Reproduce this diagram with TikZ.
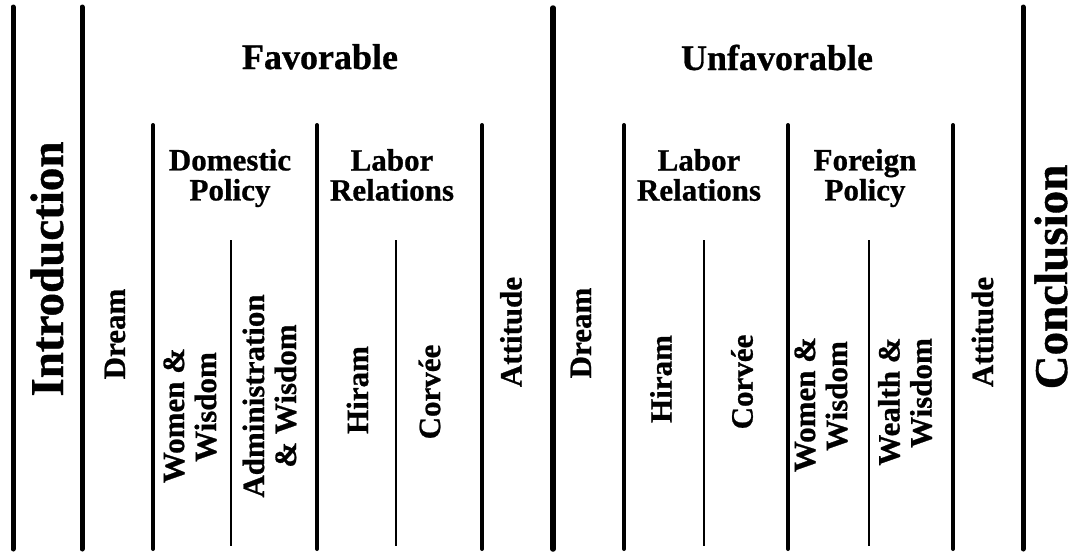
\documentclass[tikz,border=0pt]{standalone}
\usepackage{fontspec}
\setmainfont{Liberation Serif}[BoldFeatures={FakeBold=0.8}]
\begin{document}
\begin{tikzpicture}[x=1pt,y=-1pt,
  major/.style={line width=5pt, line cap=round},
  middle/.style={line width=5.5pt, line cap=round},
  secondary/.style={line width=4pt, line cap=round},
  minor/.style={line width=1.8pt},
  bigtext/.style={inner sep=0pt, rotate=90, font=\fontsize{47}{50}\selectfont\bfseries},
  headtext/.style={inner sep=0pt, anchor=base, font=\fontsize{36}{40}\selectfont\bfseries},
  subtext/.style={inner sep=0pt, align=center, font=\fontsize{31}{30}\selectfont\bfseries},
  labtext/.style={inner sep=0pt, rotate=90, align=center, font=\fontsize{31}{32}\selectfont\bfseries}]
\useasboundingbox (0,0) rectangle (1086,552);

% thick dividers
\draw[major] (13,7) -- (13,549);
\draw[major] (82,7) -- (82,549);
\draw[middle] (553,8) -- (553,549);
\draw[major] (1023,7) -- (1023,549);

% secondary dividers
\foreach \x in {153,317,482,624,788,953}
  \draw[secondary] (\x,125) -- (\x,549);

% minor dividers
\foreach \x in {231,396,704,869}
  \draw[minor] (\x,240) -- (\x,546);

% big labels
\node[bigtext] (intro) at (47,269) {Introduction};
\node[bigtext] (concl) at (1051,277) {Conclusion};

% section heads
\node[headtext] (fav) at (320,69) {Favorable};
\node[headtext] (unfav) at (777,70) {Unfavorable};

% sub heads
\node[subtext] (dom) at (230,178) {Domestic\\Policy};
\node[subtext] (labf) at (392,175) {Labor\\Relations};
\node[subtext] (labu) at (699,175) {Labor\\Relations};
\node[subtext] (for) at (865,178) {Foreign\\Policy};

% rotated labels
\node[labtext] (dreamf) at (115,334) {Dream};
\node[labtext] (womf) at (190,407) {Women \&\hspace*{0.55em}\\Wisdom};
\node[labtext] (adm) at (269.5,396) {Administration\\\& Wisdom};
\node[labtext] (hirf) at (357.5,390) {Hiram};
\node[labtext] (corf) at (429.5,392) {Corvée};
\node[labtext] (attf) at (511,332) {Attitude};
\node[labtext] (dreamu) at (581,333) {Dream};
\node[labtext] (hiru) at (661,379) {Hiram};
\node[labtext] (coru) at (742,382) {Corvée};
\node[labtext] (womu) at (821,396) {Women \&\hspace*{0.55em}\\Wisdom};
\node[labtext] (wea) at (905,393) {Wealth \&\hspace*{0.55em}\\Wisdom};
\node[labtext] (attu) at (982.5,332) {Attitude};
\end{tikzpicture}
\end{document}
